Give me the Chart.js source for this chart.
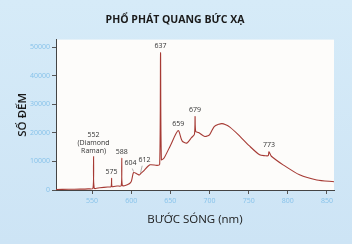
<!DOCTYPE html>
<html>
<head>
<meta charset="utf-8">
<script src="https://cdn.jsdelivr.net/npm/chart.js@4.4.1/dist/chart.umd.min.js"></script>
<style>
    html, body { margin: 0; padding: 0; }
    body {
        width: 352px; height: 244px; overflow: hidden;
        background: linear-gradient(180deg, #d6ebf8 0%, #cde4f5 100%);
    }
    #wrap { width: 352px; height: 244px; position: relative; }
</style>
</head>
<body>
<div id="wrap"><canvas id="spectrum"></canvas></div>
<script>
// Dữ liệu phổ: bước sóng (nm) và số đếm
const wavelengths = [
    504, 520, 535, 545, 551.2, 552, 552.8, 560, 570, 574.3, 575, 575.7,
    582, 587.3, 588, 588.7, 595, 600, 603, 607, 610.5, 612, 616, 624, 633,
    636.4, 637.5, 638.6, 642, 650, 660, 665, 671, 677, 680.8, 681.6, 682.4,
    686, 694, 700, 706, 712, 716, 720, 726, 737, 751, 764, 771, 775, 776,
    779, 794, 815, 837, 859
];
const counts = [
    200, 250, 300, 400, 600, 11700, 650, 800, 1050, 1150, 4100, 1200,
    1400, 1500, 11100, 1600, 1800, 2900, 6100, 5700, 5250, 5700, 6700, 8800, 8600,
    9000, 48000, 10600, 11200, 15500, 20800, 17200, 16400, 18300, 19500, 25700, 20500,
    20100, 18700, 19300, 22200, 23000, 23200, 22900, 22000, 19300, 15400, 12300, 12000, 12000, 13400,
    11800, 8800, 5300, 3500, 2900
];

// Nhãn các đỉnh
const peakNames = ['552\n(Diamond\nRaman)', '575', '588', '604', '612', '637', '659', '679', '773'];
const peakX = [552, 575, 588, 603, 612, 637.5, 660, 681.6, 776];
const peakY = [11700, 4100, 11100, 6100, 5700, 48000, 20800, 25700, 13400];

const xTicks = [550, 600, 650, 700, 750, 800, 850];
const yTicks = [0, 10000, 20000, 30000, 40000, 50000];

const FONT = "'Open Sans', 'Noto Sans', sans-serif";
const LINE_COLOR = '#a63a34';
const TICK_COLOR = '#86c2ea';

// Nền vùng vẽ
const plotBackground = {
    id: 'plotBackground',
    beforeDraw(chart) {
        const { ctx, chartArea: a } = chart;
        ctx.save();
        ctx.fillStyle = '#fdfcfa';
        ctx.fillRect(a.left, a.top, a.right - a.left, a.bottom - a.top);
        ctx.restore();
    }
};

// Vẽ nhãn đỉnh theo toạ độ dữ liệu
const peakLabels = {
    id: 'peakLabels',
    afterDatasetsDraw(chart) {
        const { ctx, scales } = chart;
        ctx.save();
        ctx.font = '7px ' + FONT;
        ctx.fillStyle = '#333';
        ctx.textAlign = 'center';
        ctx.textBaseline = 'bottom';
        peakNames.forEach((name, i) => {
            const px = scales.x.getPixelForValue(peakX[i]);
            const py = scales.y.getPixelForValue(peakY[i]);
            const lines = name.split('\n');
            let dx = 0, dy = -3;
            if (name === '552\n(Diamond\nRaman)') dy = -2;
            if (name === '604') { dx = -3; dy = -6; }
            if (name === '612') { dx = 4; dy = -10; }
            lines.forEach((line, j) => {
                ctx.fillText(line, px + dx, py + dy - (lines.length - 1 - j) * 8);
            });
            // đường dẫn nhỏ cho 604 và 612
            if (name === '604' || name === '612') {
                ctx.strokeStyle = '#777';
                ctx.lineWidth = 0.6;
                ctx.beginPath();
                ctx.moveTo(px + dx * 0.4, py + dy + 2);
                ctx.lineTo(px, py - 1);
                ctx.stroke();
            }
        });
        ctx.restore();
    }
};

new Chart(document.getElementById('spectrum'), {
    type: 'line',
    data: {
        datasets: [{
            data: wavelengths.map((w, i) => ({ x: w, y: counts[i] })),
            borderColor: LINE_COLOR,
            borderWidth: 1.1,
            pointRadius: 0,
            tension: 0.25,
            fill: false
        }]
    },
    options: {
        responsive: true,
        maintainAspectRatio: false,
        animation: false,
        layout: { padding: { left: 16, right: 18, top: 0, bottom: 17 } },
        plugins: {
            legend: { display: false },
            tooltip: { enabled: false },
            title: {
                display: true,
                text: 'PHỔ PHÁT QUANG BỨC XẠ',
                color: '#1a1a1a',
                font: { family: FONT, size: 10.5, weight: 'bold' },
                padding: { top: 14, bottom: 13 }
            }
        },
        scales: {
            x: {
                type: 'linear',
                min: 504,
                max: 859,
                afterBuildTicks: scale => { scale.ticks = xTicks.map(v => ({ value: v })); },
                afterFit: scale => { scale.height = 37; },
                grid: { drawOnChartArea: false, drawTicks: true, tickLength: 4, color: '#555' },
                border: { color: '#444', width: 1 },
                ticks: { color: TICK_COLOR, font: { family: FONT, size: 7 }, padding: 3, maxRotation: 0, callback: v => String(v) },
                title: {
                    display: true,
                    text: 'BƯỚC SÓNG (nm)',
                    color: '#1a1a1a',
                    font: { family: FONT, size: 11.5 },
                    padding: { top: 0, bottom: 0 }
                }
            },
            y: {
                min: 0,
                max: 52600,
                afterBuildTicks: scale => { scale.ticks = yTicks.map(v => ({ value: v })); },
                afterFit: scale => { scale.width = 40; },
                grid: { drawOnChartArea: false, drawTicks: true, tickLength: 4, color: '#555' },
                border: { color: '#444', width: 1 },
                ticks: { color: TICK_COLOR, font: { family: FONT, size: 7 }, padding: 2, callback: v => String(v) },
                title: {
                    display: true,
                    text: 'SỐ ĐẾM',
                    color: '#1a1a1a',
                    font: { family: FONT, size: 11.5, weight: '600' },
                    padding: { top: 0, bottom: 0 }
                }
            }
        }
    },
    plugins: [plotBackground, peakLabels]
});
</script>
</body>
</html>
